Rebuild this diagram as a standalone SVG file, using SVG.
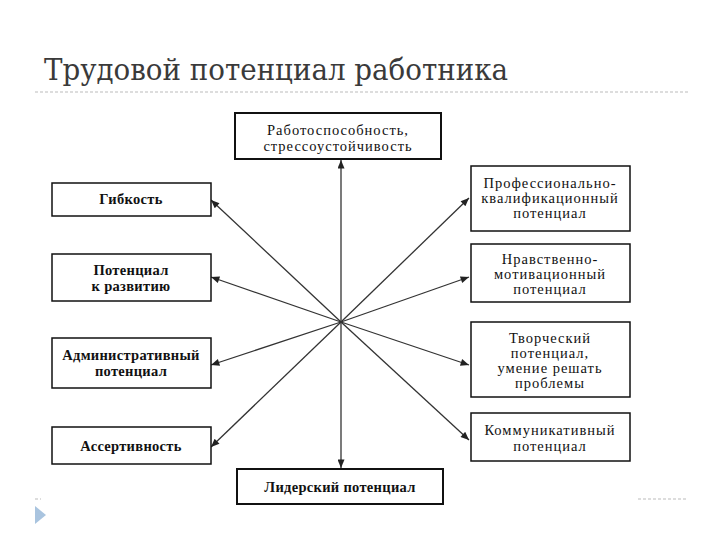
<svg xmlns="http://www.w3.org/2000/svg" width="720" height="540" viewBox="0 0 720 540">
  <defs>
    <marker id="ah" viewBox="0 0 12 10" refX="12" refY="5" markerWidth="12" markerHeight="7" markerUnits="userSpaceOnUse" orient="auto">
      <path d="M0,0 L12,5 L0,10 z" fill="#222"/>
    </marker>
  </defs>
  <style>
    .box { fill: #fff; stroke: #111; stroke-width: 1.5; }
    .boxb { fill: #fff; stroke: #111; stroke-width: 2; }
    .t { font-family: Liberation Serif, DejaVu Serif, serif; font-size: 14.5px; letter-spacing: 1px; fill: #111; text-anchor: middle; }
    .tb { font-weight: bold; letter-spacing: 0.3px; }
    .c { stroke: #333; stroke-width: 1.3; fill: none; marker-end: url(#ah); }
    .dash { stroke: #bbb; stroke-width: 1; stroke-dasharray: 3 2; }
  </style>
  <rect width="720" height="540" fill="#fff"/>

  <g id="title">
    <text x="44" y="80" font-family="DejaVu Serif" font-size="30" fill="#3a3a3a" textLength="464" lengthAdjust="spacingAndGlyphs">Трудовой потенциал работника</text>
    <line class="dash" x1="35" y1="92" x2="688" y2="92"/>
  </g>

  <g id="connectors">
    <line class="c" x1="341" y1="322" x2="341" y2="160"/>
    <line class="c" x1="341" y1="322" x2="341" y2="468"/>
    <line class="c" x1="341" y1="322" x2="211" y2="200"/>
    <line class="c" x1="341" y1="322" x2="211" y2="277"/>
    <line class="c" x1="341" y1="322" x2="211" y2="365"/>
    <line class="c" x1="341" y1="322" x2="211" y2="447"/>
    <line class="c" x1="341" y1="322" x2="469" y2="198"/>
    <line class="c" x1="341" y1="322" x2="469" y2="277"/>
    <line class="c" x1="341" y1="322" x2="469" y2="365"/>
    <line class="c" x1="341" y1="322" x2="469" y2="440"/>
  </g>

  <g id="n-work">
    <rect class="boxb" x="235" y="113" width="206" height="46"/>
    <text class="t" x="338" y="135">Работоспособность,</text>
    <text class="t" x="338" y="151">стрессоустойчивость</text>
  </g>
  <g id="n-flex">
    <rect class="box" x="52" y="183" width="159" height="33"/>
    <text class="t tb" x="131" y="204">Гибкость</text>
  </g>
  <g id="n-dev">
    <rect class="box" x="52" y="254" width="159" height="47"/>
    <text class="t tb" x="131" y="275">Потенциал</text>
    <text class="t tb" x="131" y="291">к развитию</text>
  </g>
  <g id="n-admin">
    <rect class="box" x="52" y="338" width="159" height="50"/>
    <text class="t tb" x="131" y="360">Административный</text>
    <text class="t tb" x="131" y="376">потенциал</text>
  </g>
  <g id="n-assert">
    <rect class="box" x="52" y="427" width="159" height="37"/>
    <text class="t tb" x="131" y="451">Ассертивность</text>
  </g>
  <g id="n-prof">
    <rect class="box" x="471" y="166" width="159" height="65"/>
    <text class="t" x="550" y="188">Профессионально-</text>
    <text class="t" x="550" y="203">квалификационный</text>
    <text class="t" x="550" y="218">потенциал</text>
  </g>
  <g id="n-moral">
    <rect class="box" x="471" y="244" width="159" height="58"/>
    <text class="t" x="550" y="264">Нравственно-</text>
    <text class="t" x="550" y="279">мотивационный</text>
    <text class="t" x="550" y="294">потенциал</text>
  </g>
  <g id="n-creative">
    <rect class="box" x="471" y="322" width="159" height="75"/>
    <text class="t" x="550" y="343">Творческий</text>
    <text class="t" x="550" y="358">потенциал,</text>
    <text class="t" x="550" y="373">умение решать</text>
    <text class="t" x="550" y="388">проблемы</text>
  </g>
  <g id="n-comm">
    <rect class="box" x="471" y="413" width="159" height="48"/>
    <text class="t" x="550" y="435">Коммуникативный</text>
    <text class="t" x="550" y="451">потенциал</text>
  </g>
  <g id="n-leader">
    <rect class="boxb" x="237" y="469" width="206" height="35"/>
    <text class="t tb" x="340" y="492">Лидерский потенциал</text>
  </g>

  <g id="footer">
    <line class="dash" x1="35" y1="499" x2="41" y2="499"/>
    <line class="dash" x1="638" y1="499" x2="688" y2="499"/>
    <polygon points="35,506 46,515 35,524" fill="#a9c4df"/>
  </g>
</svg>
